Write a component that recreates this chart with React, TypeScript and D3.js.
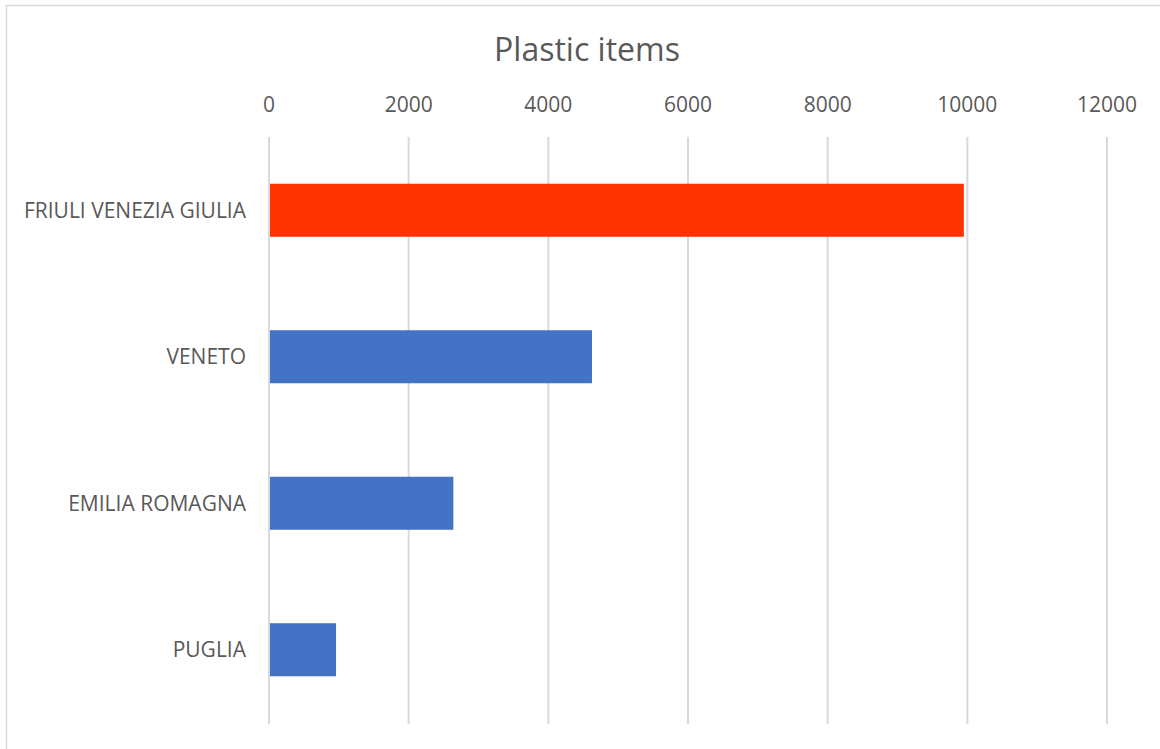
import React from "react";
import * as d3 from "d3";

const categories = ["FRIULI VENEZIA GIULIA", "VENETO", "EMILIA ROMAGNA", "PUGLIA"];
const values = [9950, 4625, 2640, 960];
const barColors = ["#FF3300", "#4472C4", "#4472C4", "#4472C4"];
const ticks = [0, 2000, 4000, 6000, 8000, 10000, 12000];

export default function App() {
  const W = 1160, H = 749;
  const x = d3.scaleLinear().domain([0, 12000]).range([269, 1107]);
  const y = d3.scaleBand().domain(categories).range([137, 723]).paddingInner(0.638).paddingOuter(0.319);
  const font = "'Open Sans', 'Noto Sans', sans-serif";
  return (
    <svg width={W} height={H} style={{ position: "absolute", left: 0, top: 0 }}>
      <rect x={0} y={0} width={W} height={H} fill="#fff" />
      <rect x={6.5} y={5.5} width={1170} height={760} fill="#fff" stroke="#D9D9D9" strokeWidth={1.5} />
      <text x={587} y={61} textAnchor="middle" fontFamily={font} fontSize={32} fill="#595959">Plastic items</text>
      {ticks.map((t) => (
        <g key={t}>
          <line x1={x(t)} x2={x(t)} y1={137} y2={724} stroke="#D9D9D9" strokeWidth={2} />
          <text x={x(t)} y={112} textAnchor="middle" fontFamily={font} fontSize={21} fill="#595959">{t}</text>
        </g>
      ))}
      {categories.map((c, i) => (
        <g key={c}>
          <rect x={x(0) + 1} y={y(c)} width={x(values[i]) - x(0) - 1} height={y.bandwidth()} fill={barColors[i]} />
          <text x={246} y={(y(c) as number) + y.bandwidth() / 2} dy="0.35em" textAnchor="end" fontFamily={font} fontSize={21} fill="#595959">{c}</text>
        </g>
      ))}
    </svg>
  );
}
